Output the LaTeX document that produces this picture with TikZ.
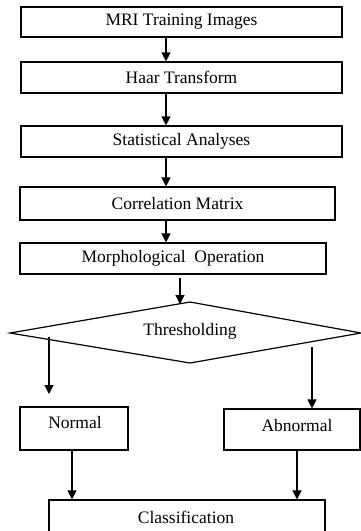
\documentclass[tikz,border=0pt]{standalone}
\usepackage{fontspec}
\setmainfont{Liberation Serif}
\usetikzlibrary{arrows.meta}
\begin{document}
\begin{tikzpicture}[x=1pt,y=-1pt,
  box/.style={draw, line width=1.2pt, minimum width=#1, inner sep=0pt},
  txt/.style={font=\fontsize{17.5}{20}\selectfont, inner sep=0pt},
  arr/.style={line width=1.3pt, -{Triangle[length=9pt,width=9pt]}},
  ln/.style={line width=1.2pt}]
\useasboundingbox (0,0) rectangle (361,531);
\clip (0,0) rectangle (361,531);
\fill[white] (0,0) rectangle (361,531);
% boxes
\node[box=321pt, minimum height=30pt, txt] (b1) at (181.5,22) {MRI Training Images};
\node[box=321pt, minimum height=31pt, txt] (b2) at (181.5,77.5) {Haar Transform};
\node[box=321pt, minimum height=31pt, txt] (b3) at (181.5,141.5) {Statistical Analyses};
\node[box=315pt, minimum height=33pt, txt] (b4) at (177.5,203.5) {Correlation Matrix};
\node[box=306pt, minimum height=31pt, txt] (b5) at (173,258.5) {Morphological\ \ Operation};
% diamond
\coordinate (dt) at (190,302);
\coordinate (dl) at (10,333);
\coordinate (dr) at (361,333);
\coordinate (db) at (190,363);
\draw[ln] (dt) -- (dr) -- (db) -- (dl) -- cycle;
\node[txt] (th) at (190,331) {Thresholding};
% result boxes
\node[box=108pt, minimum height=43pt] (nb) at (74,428.5) {};
\node[txt] (nt) at (75,423) {Normal};
\node[box=136pt, minimum height=41pt] (ab) at (292,429.5) {};
\node[txt] (at) at (297,426) {Abnormal};
\node[box=276pt, minimum height=45pt] (cb) at (187,522.5) {};
\node[txt] (ct) at (186,517) {Classification};
% connectors
\draw[arr] (166,0 |- b1.south) -- (166,0 |- b2.north);
\draw[arr] (166,0 |- b2.south) -- (166,0 |- b3.north);
\draw[arr] (166,0 |- b3.south) -- (166,0 |- b4.north);
\draw[arr] (166,0 |- b4.south) -- (166,0 |- b5.north);
\coordinate (m1) at (180,278);
\draw[arr] (m1) -- (180,304);
\coordinate (l1) at (49,337);
\coordinate (l2) at (49,394);
\draw[arr] (l1) -- (l2);
\coordinate (r1) at (312,347);
\draw[arr] (r1) -- (312,0 |- ab.north);
\draw[arr] (72,0 |- nb.south) -- (72,0 |- cb.north);
\draw[arr] (297,0 |- ab.south) -- (297,0 |- cb.north);
\end{tikzpicture}
\end{document}
